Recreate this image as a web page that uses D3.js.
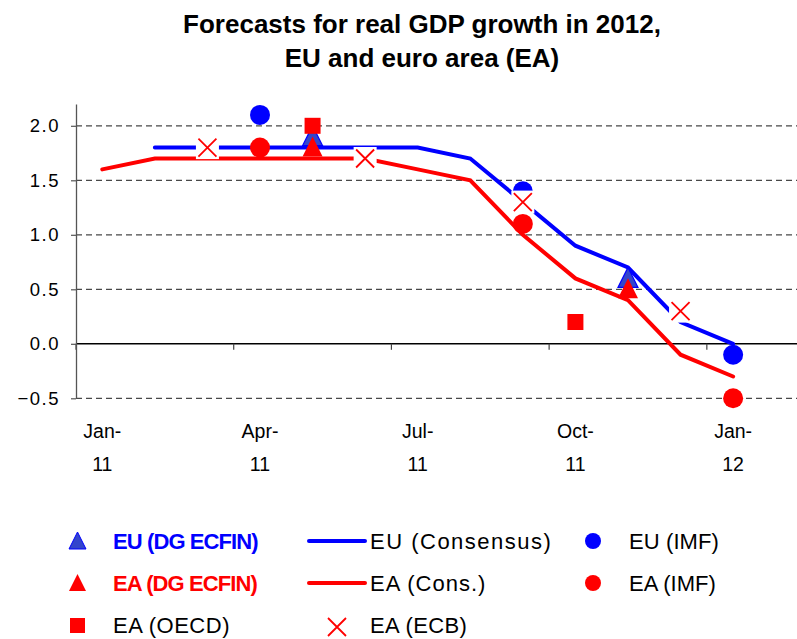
<!DOCTYPE html>
<html>
<head>
<meta charset="utf-8">
<script src="https://cdn.jsdelivr.net/npm/d3@7"></script>
<style>
  body { margin: 0; background: #fff; }
  svg { display: block; font-family: "Liberation Sans", Arial, sans-serif; }
</style>
</head>
<body>
<div id="chart"></div>
<script>
// Categories (monthly, Excel-style category axis)
var months = ['Jan-11', 'Feb-11', 'Mar-11', 'Apr-11', 'May-11', 'Jun-11', 'Jul-11',
  'Aug-11', 'Sep-11', 'Oct-11', 'Nov-11', 'Dec-11', 'Jan-12', 'Feb-12'];
var tickMonths = ['Jan-11', 'Apr-11', 'Jul-11', 'Oct-11', 'Jan-12'];
var yTicks = [-0.5, 0, 0.5, 1, 1.5, 2];

// Consensus lines, one value per month (null = no data)
var euConsensus = [null, 1.8, 1.8, 1.8, 1.8, 1.8, 1.8, 1.7, 1.3, 0.9, 0.7, 0.2, 0.0, null];
var eaConsensus = [1.6, 1.7, 1.7, 1.7, 1.7, 1.7, 1.6, 1.5, 1.0, 0.6, 0.4, -0.1, -0.3, null];

// Institutional forecasts [month, value]
var euEcfin = [['May-11', 1.9], ['Nov-11', 0.6]];
var eaEcfin = [['May-11', 1.8], ['Nov-11', 0.5]];
var euImf = [['Apr-11', 2.1], ['Sep-11', 1.4], ['Jan-12', -0.1]];
var eaImf = [['Apr-11', 1.8], ['Sep-11', 1.1], ['Jan-12', -0.5]];
var eaOecd = [['May-11', 2.0], ['Oct-11', 0.2]];
var eaEcb = [['Mar-11', 1.8], ['Jun-11', 1.7], ['Sep-11', 1.3], ['Dec-11', 0.3]];

var titleLines = ['Forecasts for real GDP growth in 2012,', 'EU and euro area (EA)'];

var BLUE = '#0000ff';
var RED = '#ff0000';
var TRI_BLUE = '#3345cc';

var width = 797, height = 639;
var plot = {left: 76, top: 104, bottom: 398.3, monthW: 52.57};

var svg = d3.select('#chart').append('svg')
  .attr('width', width)
  .attr('height', height);

svg.append('rect').attr('width', width).attr('height', height).attr('fill', '#fff');

// Title
svg.append('g').selectAll('text')
  .data(titleLines)
  .enter().append('text')
  .attr('x', 422)
  .attr('y', function(d, i) { return 33 + i * 34; })
  .attr('text-anchor', 'middle')
  .attr('font-size', 26)
  .attr('font-weight', 'bold')
  .attr('fill', '#000')
  .text(function(d) { return d; });

// Scales
var x = d3.scaleBand()
  .domain(months)
  .range([plot.left, plot.left + plot.monthW * months.length])
  .padding(0);
var y = d3.scaleLinear()
  .domain([-0.5, 2.2])
  .range([plot.bottom, plot.top]);
var cx = function(m) { return x(m) + x.bandwidth() / 2; };

// Dashed gridlines
svg.append('g').selectAll('line')
  .data(yTicks.filter(function(v) { return v !== 0; }))
  .enter().append('line')
  .attr('x1', plot.left)
  .attr('x2', x.range()[1])
  .attr('y1', function(d) { return y(d); })
  .attr('y2', function(d) { return y(d); })
  .attr('stroke', '#484848')
  .attr('stroke-width', 1.3)
  .attr('stroke-dasharray', '6,4');

// Zero line
svg.append('line')
  .attr('x1', plot.left).attr('x2', x.range()[1])
  .attr('y1', y(0)).attr('y2', y(0))
  .attr('stroke', '#000')
  .attr('stroke-width', 1.5);

// x tick marks at category boundaries
svg.append('g').selectAll('line')
  .data(tickMonths)
  .enter().append('line')
  .attr('x1', function(d) { return x(d); })
  .attr('x2', function(d) { return x(d); })
  .attr('y1', y(0))
  .attr('y2', y(0) + 6)
  .attr('stroke', '#444')
  .attr('stroke-width', 1.2);

// x tick labels, two lines each, centred on the category
var xLab = svg.append('g').selectAll('text')
  .data(tickMonths)
  .enter().append('text')
  .attr('text-anchor', 'middle')
  .attr('font-size', 19.5)
  .attr('fill', '#000');
xLab.append('tspan')
  .attr('x', function(d) { return cx(d); })
  .attr('y', 437.5)
  .text(function(d) { return d.split('-')[0] + '-'; });
xLab.append('tspan')
  .attr('x', function(d) { return cx(d); })
  .attr('y', 470.5)
  .text(function(d) { return d.split('-')[1]; });

// y axis
var yAxis = d3.axisLeft(y)
  .tickValues(yTicks)
  .tickFormat(d3.format('.1f'))
  .tickSize(5)
  .tickSizeOuter(0)
  .tickPadding(11);
var gy = svg.append('g')
  .attr('transform', 'translate(' + plot.left + ',0)')
  .call(yAxis);
gy.select('.domain').attr('stroke', '#555').attr('stroke-width', 1.3);
gy.selectAll('.tick line').attr('stroke', '#555').attr('stroke-width', 1.2);
gy.selectAll('.tick text')
  .attr('font-size', 18.5)
  .attr('font-family', '"Liberation Sans", Arial, sans-serif')
  .attr('letter-spacing', 1.5)
  .attr('fill', '#000');

// Consensus lines
var line = d3.line()
  .defined(function(d) { return d != null; })
  .x(function(d, i) { return cx(months[i]); })
  .y(function(d) { return y(d); });

[[euConsensus, BLUE], [eaConsensus, RED]].forEach(function(s) {
  svg.append('path')
    .attr('d', line(s[0]))
    .attr('fill', 'none')
    .attr('stroke', s[1])
    .attr('stroke-width', 4)
    .attr('stroke-linecap', 'round');
});

// Marker helpers
function triangle(sel, size) {
  var h = size / 2;
  sel.attr('d', 'M0,' + (-h - 1) + 'L' + h + ',' + (h - 1) + 'L' + (-h) + ',' + (h - 1) + 'Z');
}
function cross(g, size, box) {
  var h = size / 2;
  if (box) {
    g.append('rect').attr('x', -box / 2).attr('y', -box / 2)
      .attr('width', box).attr('height', box).attr('fill', '#fff');
  }
  g.append('path')
    .attr('d', 'M' + (-h) + ',' + (-h) + 'L' + h + ',' + h + 'M' + h + ',' + (-h) + 'L' + (-h) + ',' + h)
    .attr('stroke', RED)
    .attr('stroke-width', 1.8)
    .attr('fill', 'none');
}
function at(d) { return 'translate(' + cx(d[0]) + ',' + y(d[1]) + ')'; }

// DG ECFIN triangles
svg.append('g').selectAll('path')
  .data(euEcfin)
  .enter().append('path')
  .attr('transform', at)
  .call(triangle, 20)
  .attr('fill', TRI_BLUE)
  .attr('stroke', BLUE)
  .attr('stroke-width', 1.2);
svg.append('g').selectAll('path')
  .data(eaEcfin)
  .enter().append('path')
  .attr('transform', at)
  .call(triangle, 20)
  .attr('fill', RED);

// IMF circles
[[euImf, BLUE], [eaImf, RED]].forEach(function(s) {
  svg.append('g').selectAll('circle')
    .data(s[0])
    .enter().append('circle')
    .attr('cx', function(d) { return cx(d[0]); })
    .attr('cy', function(d) { return y(d[1]); })
    .attr('r', 10)
    .attr('fill', s[1]);
});

// OECD squares
svg.append('g').selectAll('rect')
  .data(eaOecd)
  .enter().append('rect')
  .attr('x', function(d) { return cx(d[0]) - 8; })
  .attr('y', function(d) { return y(d[1]) - 8; })
  .attr('width', 16)
  .attr('height', 16)
  .attr('fill', RED);

// ECB crosses (white box behind, as in the original)
svg.append('g').selectAll('g')
  .data(eaEcb)
  .enter().append('g')
  .attr('transform', at)
  .each(function() { cross(d3.select(this), 18, 23); });

// Legend
var legendItems = [
  {label: 'EU (DG ECFIN)', type: 'tri', color: TRI_BLUE, text: BLUE, bold: true, col: 0, row: 0, ls: -0.9},
  {label: 'EU (Consensus)', type: 'line', color: BLUE, text: '#000', col: 1, row: 0, ls: 1.5},
  {label: 'EU (IMF)', type: 'circle', color: BLUE, text: '#000', col: 2, row: 0, ls: 0.1},
  {label: 'EA (DG ECFIN)', type: 'tri', color: RED, text: RED, bold: true, col: 0, row: 1, ls: -0.9},
  {label: 'EA (Cons.)', type: 'line', color: RED, text: '#000', col: 1, row: 1, ls: 1},
  {label: 'EA (IMF)', type: 'circle', color: RED, text: '#000', col: 2, row: 1, ls: 0},
  {label: 'EA (OECD)', type: 'square', color: RED, text: '#000', col: 0, row: 2, ls: 0.5},
  {label: 'EA (ECB)', type: 'cross', color: RED, text: '#000', col: 1, row: 2, ls: 0.4}
];
var colMarker = [77.5, 337, 593];
var colText = [113, 370, 629];
var rowY = [541, 583, 625.5];

var lg = svg.append('g').selectAll('g')
  .data(legendItems)
  .enter().append('g');

lg.each(function(d) {
  var g = d3.select(this);
  var mx = colMarker[d.col], my = rowY[d.row];
  if (d.type === 'tri') {
    g.append('path')
      .attr('transform', 'translate(' + mx + ',' + (my + 0.5) + ')')
      .call(triangle, 17)
      .attr('fill', d.color)
      .attr('stroke', d.color === RED ? 'none' : BLUE)
      .attr('stroke-width', 1);
  } else if (d.type === 'line') {
    g.append('line')
      .attr('x1', 309).attr('x2', 365)
      .attr('y1', my).attr('y2', my)
      .attr('stroke', d.color)
      .attr('stroke-width', 4)
      .attr('stroke-linecap', 'round');
  } else if (d.type === 'circle') {
    g.append('circle').attr('cx', mx).attr('cy', my).attr('r', 8).attr('fill', d.color);
  } else if (d.type === 'square') {
    g.append('rect').attr('x', mx - 7.5).attr('y', my - 7.5)
      .attr('width', 15).attr('height', 15).attr('fill', d.color);
  } else if (d.type === 'cross') {
    var c = g.append('g').attr('transform', 'translate(' + mx + ',' + (my + 1.5) + ')');
    cross(c, 18, 0);
  }
  g.append('text')
    .attr('x', colText[d.col])
    .attr('y', my + 7.5)
    .attr('font-size', 22)
    .attr('font-weight', d.bold ? 'bold' : 'normal')
    .attr('letter-spacing', d.ls)
    .attr('fill', d.text)
    .text(d.label);
});
</script>
</body>
</html>
